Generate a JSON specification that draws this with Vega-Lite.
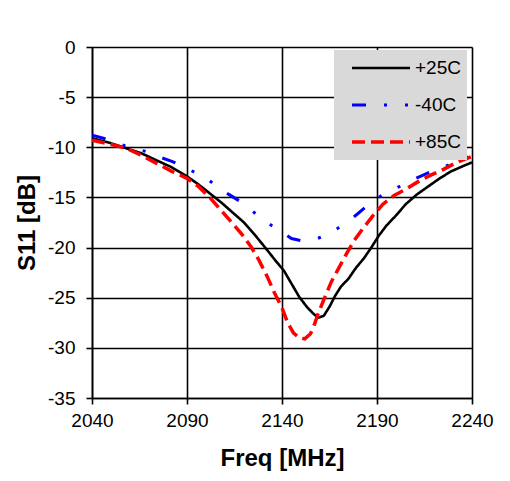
{
  "$schema": "https://vega.github.io/schema/vega-lite/v6.json",
  "autosize": "none",
  "width": 380,
  "height": 351,
  "padding": {"left": 92, "top": 47, "right": 38, "bottom": 83},
  "background": "white",
  "config": {
    "font": "Liberation Sans",
    "view": {"stroke": null},
    "axis": {
      "gridColor": "black", "gridWidth": 1.6, "gridOpacity": 1,
      "domainColor": "black", "domainWidth": 1.6,
      "tickColor": "black", "tickWidth": 1.6, "tickSize": 6,
      "labelFont": "Liberation Sans", "labelFontSize": 19, "labelColor": "black",
      "titleFont": "Liberation Sans", "titleFontSize": 24, "titleFontWeight": "bold", "titleColor": "black"
    }
  },
  "data": {"values": [
    {"f":2040,"s":-9.1,"t":"+25C"},{"f":2050,"s":-9.6,"t":"+25C"},{"f":2058,"s":-10.1,"t":"+25C"},{"f":2066,"s":-10.6,"t":"+25C"},{"f":2074,"s":-11.3,"t":"+25C"},{"f":2082,"s":-12.0,"t":"+25C"},{"f":2090,"s":-12.9,"t":"+25C"},{"f":2096,"s":-13.7,"t":"+25C"},{"f":2102,"s":-14.6,"t":"+25C"},{"f":2108,"s":-15.5,"t":"+25C"},{"f":2114,"s":-16.5,"t":"+25C"},{"f":2120,"s":-17.5,"t":"+25C"},{"f":2126,"s":-18.8,"t":"+25C"},{"f":2132,"s":-20.2,"t":"+25C"},{"f":2137,"s":-21.4,"t":"+25C"},{"f":2141,"s":-22.3,"t":"+25C"},{"f":2145,"s":-23.6,"t":"+25C"},{"f":2149,"s":-24.9,"t":"+25C"},{"f":2153,"s":-25.9,"t":"+25C"},{"f":2156,"s":-26.5,"t":"+25C"},{"f":2159,"s":-27.0,"t":"+25C"},{"f":2162,"s":-26.8,"t":"+25C"},{"f":2165,"s":-25.9,"t":"+25C"},{"f":2168,"s":-24.8,"t":"+25C"},{"f":2171,"s":-23.9,"t":"+25C"},{"f":2175,"s":-23.1,"t":"+25C"},{"f":2179,"s":-22.0,"t":"+25C"},{"f":2183,"s":-21.1,"t":"+25C"},{"f":2187,"s":-20.0,"t":"+25C"},{"f":2191,"s":-18.8,"t":"+25C"},{"f":2195,"s":-17.8,"t":"+25C"},{"f":2200,"s":-16.8,"t":"+25C"},{"f":2205,"s":-15.7,"t":"+25C"},{"f":2211,"s":-14.7,"t":"+25C"},{"f":2217,"s":-13.9,"t":"+25C"},{"f":2223,"s":-13.1,"t":"+25C"},{"f":2229,"s":-12.4,"t":"+25C"},{"f":2235,"s":-11.9,"t":"+25C"},{"f":2240,"s":-11.5,"t":"+25C"},
    {"f":2040,"s":-8.8,"t":"-40C"},{"f":2046,"s":-9.1,"t":"-40C"},{"f":2052,"s":-9.5,"t":"-40C"},{"f":2058,"s":-9.9,"t":"-40C"},{"f":2064,"s":-10.2,"t":"-40C"},{"f":2070,"s":-10.5,"t":"-40C"},{"f":2076,"s":-11.0,"t":"-40C"},{"f":2082,"s":-11.4,"t":"-40C"},{"f":2088,"s":-11.9,"t":"-40C"},{"f":2094,"s":-12.5,"t":"-40C"},{"f":2100,"s":-13.1,"t":"-40C"},{"f":2106,"s":-13.9,"t":"-40C"},{"f":2112,"s":-14.7,"t":"-40C"},{"f":2118,"s":-15.4,"t":"-40C"},{"f":2124,"s":-16.3,"t":"-40C"},{"f":2130,"s":-17.2,"t":"-40C"},{"f":2136,"s":-18.0,"t":"-40C"},{"f":2141,"s":-18.6,"t":"-40C"},{"f":2145,"s":-19.1,"t":"-40C"},{"f":2150,"s":-19.3,"t":"-40C"},{"f":2155,"s":-19.3,"t":"-40C"},{"f":2160,"s":-19.0,"t":"-40C"},{"f":2165,"s":-18.6,"t":"-40C"},{"f":2170,"s":-18.0,"t":"-40C"},{"f":2175,"s":-17.4,"t":"-40C"},{"f":2180,"s":-16.6,"t":"-40C"},{"f":2185,"s":-15.8,"t":"-40C"},{"f":2190,"s":-15.1,"t":"-40C"},{"f":2196,"s":-14.4,"t":"-40C"},{"f":2202,"s":-13.9,"t":"-40C"},{"f":2208,"s":-13.3,"t":"-40C"},{"f":2214,"s":-12.8,"t":"-40C"},{"f":2220,"s":-12.3,"t":"-40C"},{"f":2226,"s":-11.9,"t":"-40C"},{"f":2232,"s":-11.4,"t":"-40C"},{"f":2240,"s":-10.8,"t":"-40C"},
    {"f":2040,"s":-9.3,"t":"+85C"},{"f":2050,"s":-9.7,"t":"+85C"},{"f":2058,"s":-10.1,"t":"+85C"},{"f":2066,"s":-10.8,"t":"+85C"},{"f":2074,"s":-11.6,"t":"+85C"},{"f":2082,"s":-12.4,"t":"+85C"},{"f":2090,"s":-13.1,"t":"+85C"},{"f":2096,"s":-13.9,"t":"+85C"},{"f":2102,"s":-15.0,"t":"+85C"},{"f":2108,"s":-16.3,"t":"+85C"},{"f":2114,"s":-17.6,"t":"+85C"},{"f":2119,"s":-18.7,"t":"+85C"},{"f":2124,"s":-20.0,"t":"+85C"},{"f":2128,"s":-21.3,"t":"+85C"},{"f":2132,"s":-22.8,"t":"+85C"},{"f":2136,"s":-24.5,"t":"+85C"},{"f":2140,"s":-26.0,"t":"+85C"},{"f":2143,"s":-27.5,"t":"+85C"},{"f":2146,"s":-28.5,"t":"+85C"},{"f":2149,"s":-29.0,"t":"+85C"},{"f":2152,"s":-29.1,"t":"+85C"},{"f":2155,"s":-28.6,"t":"+85C"},{"f":2157,"s":-27.7,"t":"+85C"},{"f":2159,"s":-26.6,"t":"+85C"},{"f":2162,"s":-25.2,"t":"+85C"},{"f":2166,"s":-23.4,"t":"+85C"},{"f":2170,"s":-22.0,"t":"+85C"},{"f":2174,"s":-20.6,"t":"+85C"},{"f":2178,"s":-19.3,"t":"+85C"},{"f":2183,"s":-18.0,"t":"+85C"},{"f":2188,"s":-16.8,"t":"+85C"},{"f":2193,"s":-15.7,"t":"+85C"},{"f":2199,"s":-14.8,"t":"+85C"},{"f":2205,"s":-14.2,"t":"+85C"},{"f":2211,"s":-13.5,"t":"+85C"},{"f":2218,"s":-12.8,"t":"+85C"},{"f":2225,"s":-12.2,"t":"+85C"},{"f":2232,"s":-11.5,"t":"+85C"},{"f":2240,"s":-10.9,"t":"+85C"}
  ]},
  "mark": {"type": "line", "clip": true},
  "encoding": {
    "x": {
      "field": "f", "type": "quantitative", "title": "Freq [MHz]",
      "scale": {"domain": [2040, 2240], "nice": false, "zero": false},
      "axis": {"values": [2040, 2090, 2140, 2190, 2240], "labelPadding": 7, "titlePadding": 16, "labelFlush": false, "labelExpr": "'' + datum.value"}
    },
    "y": {
      "field": "s", "type": "quantitative", "title": "S11 [dB]",
      "scale": {"domain": [-35, 0], "nice": false, "zero": false},
      "axis": {"values": [0, -5, -10, -15, -20, -25, -30, -35], "labelPadding": 11, "titlePadding": 8, "labelExpr": "'' + datum.value"}
    },
    "color": {
      "field": "t", "type": "nominal", "title": null,
      "scale": {"domain": ["+25C", "-40C", "+85C"], "range": ["black", "#0000ff", "#ff0000"]},
      "legend": {
        "orient": "none", "legendX": 242, "legendY": 3,
        "fillColor": "#d9d9d9", "padding": 6, "symbolOffset": 10,
        "symbolType": "stroke", "symbolSize": 3364, "clipHeight": 24, "rowPadding": 13,
        "labelFont": "Liberation Sans", "labelFontSize": 19, "labelColor": "black", "labelOffset": 3,
        "symbolStrokeWidth": 3
      }
    },
    "strokeDash": {
      "field": "t", "type": "nominal", "title": null,
      "scale": {"domain": ["+25C", "-40C", "+85C"], "range": [[1, 0], [14, 18, 3, 18, 3, 18], [13, 6]]}
    },
    "strokeWidth": {
      "field": "t", "type": "nominal", "title": null,
      "scale": {"domain": ["+25C", "-40C", "+85C"], "range": [2.6, 3.5, 4]}
    }
  }
}
